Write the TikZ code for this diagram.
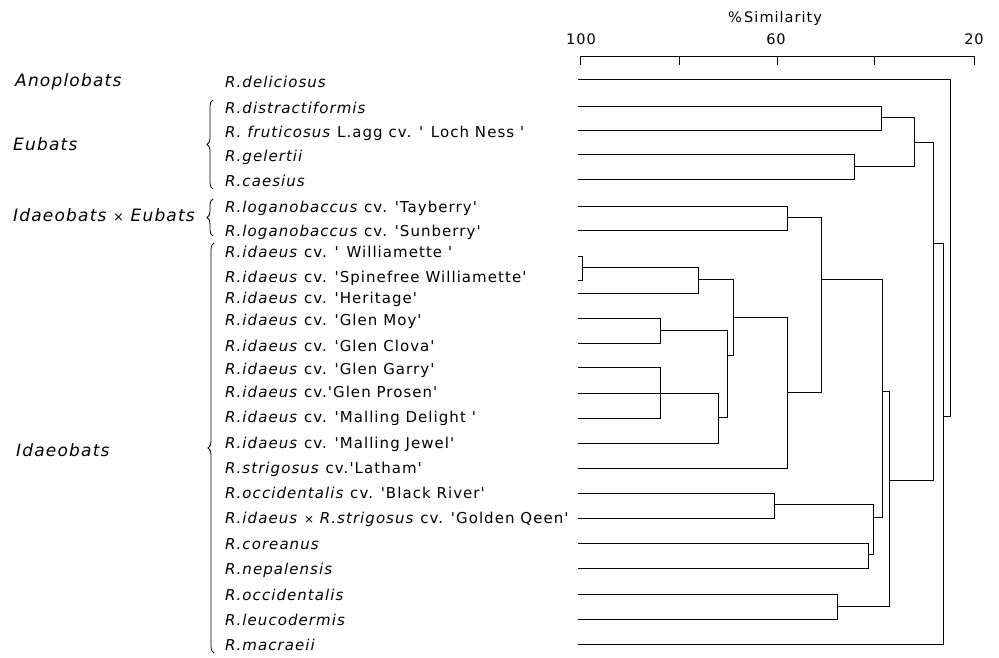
\documentclass[tikz,border=0pt]{standalone}
\usepackage{fontspec}
\setmainfont{DejaVu Sans}
\newfontfamily\spfont{DejaVu Sans}[LetterSpace=7,WordSpace=0.8]
\newfontfamily\grpfont{DejaVu Sans}[LetterSpace=7]
\usetikzlibrary{decorations.pathreplacing}
\newcommand\Rn[1]{\textit{#1}}
\begin{document}
\begin{tikzpicture}[x=1pt,y=-1pt,
  dl/.style={line width=1pt, line cap=rect},
  spn/.style={anchor=base west, inner sep=0pt, font=\spfont\fontsize{15}{16}\selectfont},
  grp/.style={anchor=base west, inner sep=0pt, font=\grpfont\fontsize{17}{18}\selectfont\itshape},
  axn/.style={anchor=base, inner sep=0pt, font=\spfont\fontsize{14.5}{16}\selectfont},
  brc/.style={decorate, decoration={brace, amplitude=6pt}, line width=0.8pt}]
\useasboundingbox (0,0) rectangle (999,658);

% ---- axis ----
\coordinate (a100) at (580,57);
\coordinate (a20) at (974,57);
\draw[dl] (a100) -- (a20);
\foreach \x [count=\k] in {580,679,777,874,974}
  \draw[dl] (\x,57) coordinate (t\k) -- (\x,65);
\node[axn] (n100) at (581,45) {100};
\node[axn] (n60) at (776,45) {60};
\node[axn] (n20) at (974,45) {20};
\node[axn] (sim) at (775,23) {\%\,Similarity};

% ---- species labels ----
\node[spn] (l1)  at (225,87.5)  {\Rn{R.deliciosus}};
\node[spn] (l2)  at (225,113.5) {\Rn{R.distractiformis}};
\node[spn] (l3)  at (225,137.5) {\Rn{R. fruticosus} L.agg cv. ' Loch Ness '};
\node[spn] (l4)  at (225,161.5) {\Rn{R.gelertii}};
\node[spn] (l5)  at (225,186.5) {\Rn{R.caesius}};
\node[spn] (l6)  at (225,212.5) {\Rn{R.loganobaccus} cv. 'Tayberry'};
\node[spn] (l7)  at (225,236.5) {\Rn{R.loganobaccus} cv. 'Sunberry'};
\node[spn] (l8)  at (225,257)   {\Rn{R.idaeus} cv. ' Williamette '};
\node[spn] (l9)  at (225,282)   {\Rn{R.idaeus} cv. 'Spinefree Williamette'};
\node[spn] (l10) at (225,303)   {\Rn{R.idaeus} cv. 'Heritage'};
\node[spn] (l11) at (225,325)   {\Rn{R.idaeus} cv. 'Glen Moy'};
\node[spn] (l12) at (225,351)   {\Rn{R.idaeus} cv. 'Glen Clova'};
\node[spn] (l13) at (225,374)   {\Rn{R.idaeus} cv. 'Glen Garry'};
\node[spn] (l14) at (225,397)   {\Rn{R.idaeus} cv.'Glen Prosen'};
\node[spn] (l15) at (225,422.5) {\Rn{R.idaeus} cv. 'Malling Delight '};
\node[spn] (l16) at (225,448)   {\Rn{R.idaeus} cv. 'Malling Jewel'};
\node[spn] (l17) at (225,473)   {\Rn{R.strigosus} cv.'Latham'};
\node[spn] (l18) at (225,498)   {\Rn{R.occidentalis} cv. 'Black River'};
\node[spn] (l19) at (225,523)   {\Rn{R.idaeus} {\fontsize{12}{13}\selectfont×} \Rn{R.strigosus} cv. 'Golden Qeen'};
\node[spn] (l20) at (225,549)   {\Rn{R.coreanus}};
\node[spn] (l21) at (225,574)   {\Rn{R.nepalensis}};
\node[spn] (l22) at (225,600)   {\Rn{R.occidentalis}};
\node[spn] (l23) at (225,625)   {\Rn{R.leucodermis}};
\node[spn] (l24) at (225,650)   {\Rn{R.macraeii}};

% ---- group labels and braces ----
\node[grp] (gA) at (15,87)  {Anoplobats};
\node[grp] (gE) at (13,151) {Eubats};
\node[grp] (gIE) at (13,222) {Idaeobats {\upshape\fontsize{13}{14}\selectfont×} Eubats};
\node[grp] (gI) at (16,456) {Idaeobats};
\draw[brc] (213,189) -- (213,100);
\draw[brc] (213,236) -- (213,199);
\draw[brc] (214,653) -- (214,243);

% ---- leaves ----
\foreach \y/\e [count=\i] in {80/950,107/881,131/881,155/854,180/854,206/787,230/787,
  256/582,280/582,293/698,318/660,343/660,367/660,393/718,418/660,443/718,468/787,
  493/774,518/774,543/868,568/868,594/837,619/837,644/943}
  \draw[dl] (578,\y) coordinate (s\i) -- (\e,\y) coordinate (e\i);

% ---- internal structure ----
\draw[dl] (e2) -- (e3);
\draw[dl] (881,118) -- (914,118);
\draw[dl] (e4) -- (e5);
\draw[dl] (854,167) -- (914,167);
\draw[dl] (914,118) -- (914,167);
\draw[dl] (914,143) -- (933,143);
\draw[dl] (e6) -- (e7);
\draw[dl] (787,217) -- (821,217);
\draw[dl] (e8) -- (e9);
\draw[dl] (582,267) -- (698,267);
\draw[dl] (698,267) -- (e10);
\draw[dl] (698,279) -- (733,279);
\draw[dl] (e11) -- (e12);
\draw[dl] (660,330) -- (727,330);
\draw[dl] (e13) -- (e15);
\draw[dl] (e14) -- (e16);
\draw[dl] (718,417) -- (727,417);
\draw[dl] (727,330) -- (727,417);
\draw[dl] (727,355) -- (733,355);
\draw[dl] (733,279) -- (733,355);
\draw[dl] (733,317) -- (787,317);
\draw[dl] (787,317) -- (e17);
\draw[dl] (787,392) -- (821,392);
\draw[dl] (821,217) -- (821,392);
\draw[dl] (821,279) -- (882,279);
\draw[dl] (e18) -- (e19);
\draw[dl] (774,504) -- (873,504);
\draw[dl] (e20) -- (e21);
\draw[dl] (868,554) -- (873,554);
\draw[dl] (873,504) -- (873,554);
\draw[dl] (873,517) -- (882,517);
\draw[dl] (882,279) -- (882,517);
\draw[dl] (882,391) -- (889,391);
\draw[dl] (e22) -- (e23);
\draw[dl] (837,606) -- (889,606);
\draw[dl] (889,391) -- (889,606);
\draw[dl] (889,480) -- (933,480);
\draw[dl] (933,143) -- (933,480);
\draw[dl] (933,243) -- (943,243);
\draw[dl] (943,243) -- (e24);
\draw[dl] (943,416) -- (950,416);
\draw[dl] (e1) -- (950,416);
\end{tikzpicture}
\end{document}
